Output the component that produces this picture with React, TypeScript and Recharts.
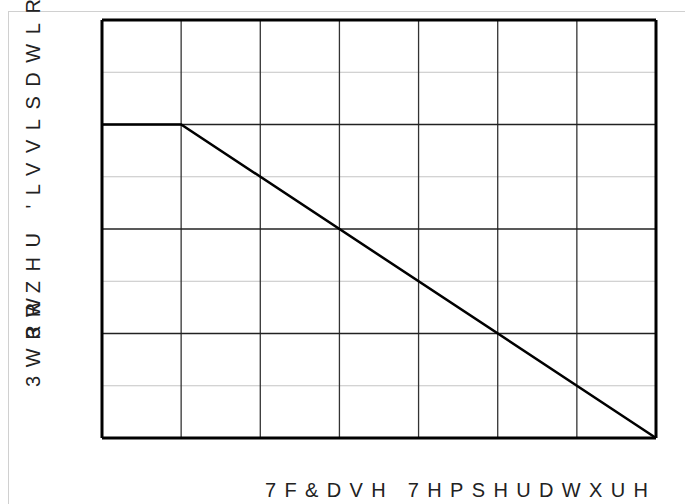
import React from "react";
import { LineChart, Line, XAxis, YAxis, ReferenceLine } from "recharts";

const caseTemp = [0, 25, 175];
const powerDiss = [60, 60, 0];
const xTicks = [0, 25, 50, 75, 100, 125, 150, 175];
const yMinorTicks = [10, 30, 50, 70];
const yMajorTicks = [20, 40, 60];
const xLabel = "7F&DVH 7HPSHUDWXUH";
const yLabelA = "3WRW";
const yLabelB = "3RZHU 'LVVLSDWLRQ";

const data = caseTemp.map((t, i) => ({ t, p: powerDiss[i] }));

const font = "'Liberation Sans', Arial, sans-serif";

export default function App() {
  return (
    <div style={{ position: "absolute", left: 0, top: 0, width: 685, height: 504, overflow: "hidden", background: "#fff" }}>
      <div
        style={{
          position: "absolute",
          left: 8,
          top: 11,
          width: 677,
          height: 493,
          boxSizing: "border-box",
          borderTop: "1px solid #d0d0d0",
          borderLeft: "1px solid #d0d0d0",
        }}
      />
      <div style={{ position: "absolute", left: 0, top: 0 }}>
        <LineChart width={685} height={504} data={data} margin={{ top: 20, right: 29, bottom: 66, left: 102 }}>
          <XAxis dataKey="t" type="number" domain={[0, 175]} ticks={xTicks} hide />
          <YAxis type="number" domain={[0, 80]} hide />
          {yMinorTicks.map((v) => (
            <ReferenceLine key={"ym" + v} y={v} stroke="#c4c4c4" strokeWidth={1} />
          ))}
          {xTicks.slice(1, -1).map((v) => (
            <ReferenceLine key={"x" + v} x={v} stroke="#333" strokeWidth={1.3} />
          ))}
          {yMajorTicks.map((v) => (
            <ReferenceLine key={"yM" + v} y={v} stroke="#222" strokeWidth={1.5} />
          ))}
          <ReferenceLine x={0} stroke="#000" strokeWidth={3} />
          <ReferenceLine x={175} stroke="#000" strokeWidth={3} />
          <ReferenceLine y={0} stroke="#000" strokeWidth={3} />
          <ReferenceLine y={80} stroke="#000" strokeWidth={3} />
          <Line
            dataKey="p"
            type="linear"
            stroke="#000"
            strokeWidth={2.5}
            dot={false}
            isAnimationActive={false}
          />
        </LineChart>
      </div>
      <svg width={685} height={504} style={{ position: "absolute", left: 0, top: 0, pointerEvents: "none" }}>
        <text
          x={265}
          y={497}
          fontFamily={font}
          fontSize={20}
          fill="#222"
          textLength={383}
          lengthAdjust="spacing"
        >
          {xLabel}
        </text>
        <text
          x={40}
          y={387}
          transform="rotate(-90, 40, 387)"
          fontFamily={font}
          fontSize={20}
          fill="#222"
          textLength={89}
          lengthAdjust="spacing"
        >
          {yLabelA}
        </text>
        <text
          x={40}
          y={338}
          transform="rotate(-90, 40, 338)"
          fontFamily={font}
          fontSize={20}
          fill="#222"
          textLength={364}
          lengthAdjust="spacing"
        >
          {yLabelB}
        </text>
      </svg>
    </div>
  );
}
